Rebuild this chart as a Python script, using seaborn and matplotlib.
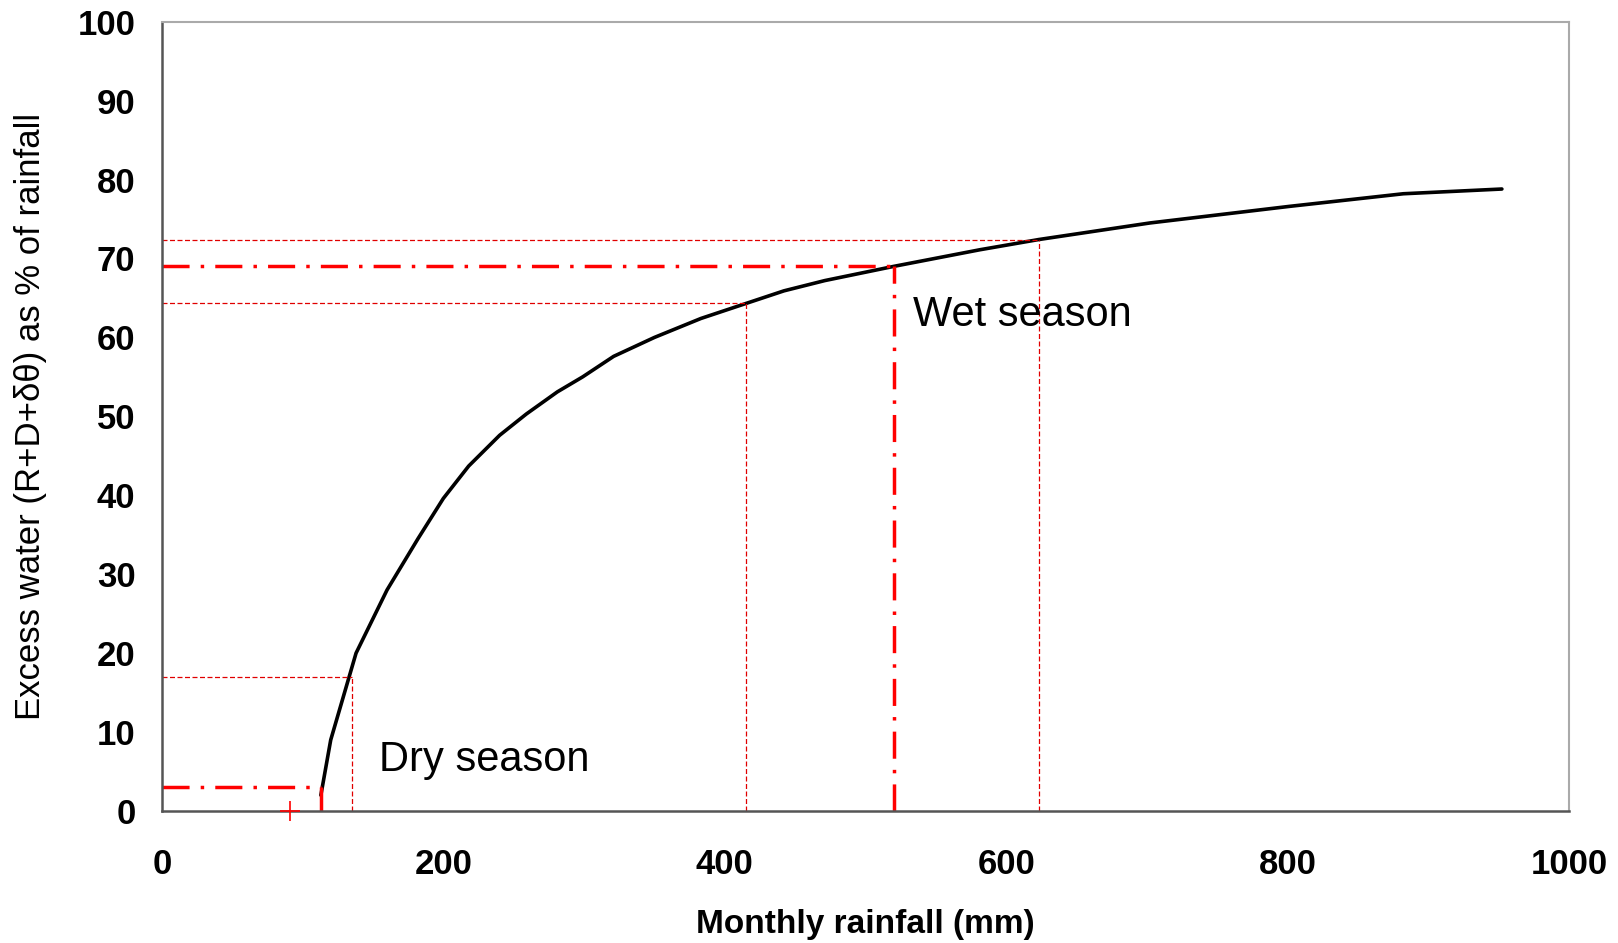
import numpy as np
import pandas as pd
import matplotlib
matplotlib.use("Agg")
import matplotlib.pyplot as plt
import seaborn as sns

# curve
rainfall = [113, 120, 138, 160, 182, 200, 218, 240, 259, 281, 299, 321, 350,
            383, 415, 442, 471, 520, 581, 623, 702, 801, 882, 952]
excess = [2.0, 9.0, 20.0, 28.0, 34.5, 39.6, 43.7, 47.6, 50.3, 53.1, 55.0, 57.6,
          60.0, 62.4, 64.3, 65.9, 67.2, 69.0, 71.1, 72.4, 74.5, 76.6, 78.2, 78.8]

# season guide lines (x, y)
season_x = [113, 520]
season_y = [3, 69]
range_x = [135, 415, 623]
range_y = [17, 64.3, 72.4]

df = pd.DataFrame({"rain": rainfall, "excess": excess})

sns.set_style("white")
plt.rcParams["font.family"] = ["Liberation Sans", "DejaVu Sans"]
plt.rcParams["text.color"] = "black"
plt.rcParams["axes.labelcolor"] = "black"
plt.rcParams["xtick.color"] = "black"
plt.rcParams["ytick.color"] = "black"

fig = plt.figure(figsize=(16.18, 9.43), dpi=100)
ax = fig.add_axes([0.100, 0.140, 0.870, 0.837])

sns.lineplot(data=df, x="rain", y="excess", color="black", linewidth=2.6, ax=ax)

# thin dashed range lines
for x, y in zip(range_x, range_y):
    ax.plot([0, x], [y, y], color="#e00000", lw=0.9, dashes=(4, 2))
    ax.plot([x, x], [0, y], color="#e00000", lw=0.9, dashes=(4, 2))

# thick dash-dot season lines
for x, y in zip(season_x, season_y):
    ax.plot([0, x], [y, y], color="#ff0000", lw=2.5, dashes=(7.8, 3.2, 1, 3.2))
    ax.plot([x, x], [0, y], color="#ff0000", lw=2.5, dashes=(7.8, 3.2, 1, 3.2))

ax.plot([91], [0], marker="+", color="#ff0000", markersize=14, mew=1.2,
        clip_on=False, zorder=6)

ax.text(154, 6.5, "Dry season", fontsize=30, va="center", ha="left")
ax.text(534, 62.9, "Wet season", fontsize=30, va="center", ha="left")

ax.set_xlim(0, 1000)
ax.set_ylim(0, 100)
ax.set_xticks(np.arange(0, 1001, 200))
ax.set_yticks(np.arange(0, 101, 10))
ax.tick_params(axis="both", direction="out", length=7, width=1.2, color="#404040",
               labelsize=25, pad=12)
ax.tick_params(axis="x", pad=20)
for lab in ax.get_xticklabels() + ax.get_yticklabels():
    lab.set_fontweight("bold")

for side in ["left", "bottom"]:
    ax.spines[side].set_color("#555555")
    ax.spines[side].set_linewidth(1.8)
for side in ["top", "right"]:
    ax.spines[side].set_color("#aaaaaa")
    ax.spines[side].set_linewidth(1.5)

ax.set_xlabel("Monthly rainfall (mm)", fontsize=24, fontweight="bold", labelpad=20)
ax.set_ylabel("Excess water (R+D+δθ) as % of rainfall", fontsize=25, labelpad=22)

fig.savefig("out.png", dpi=100, facecolor="white")
